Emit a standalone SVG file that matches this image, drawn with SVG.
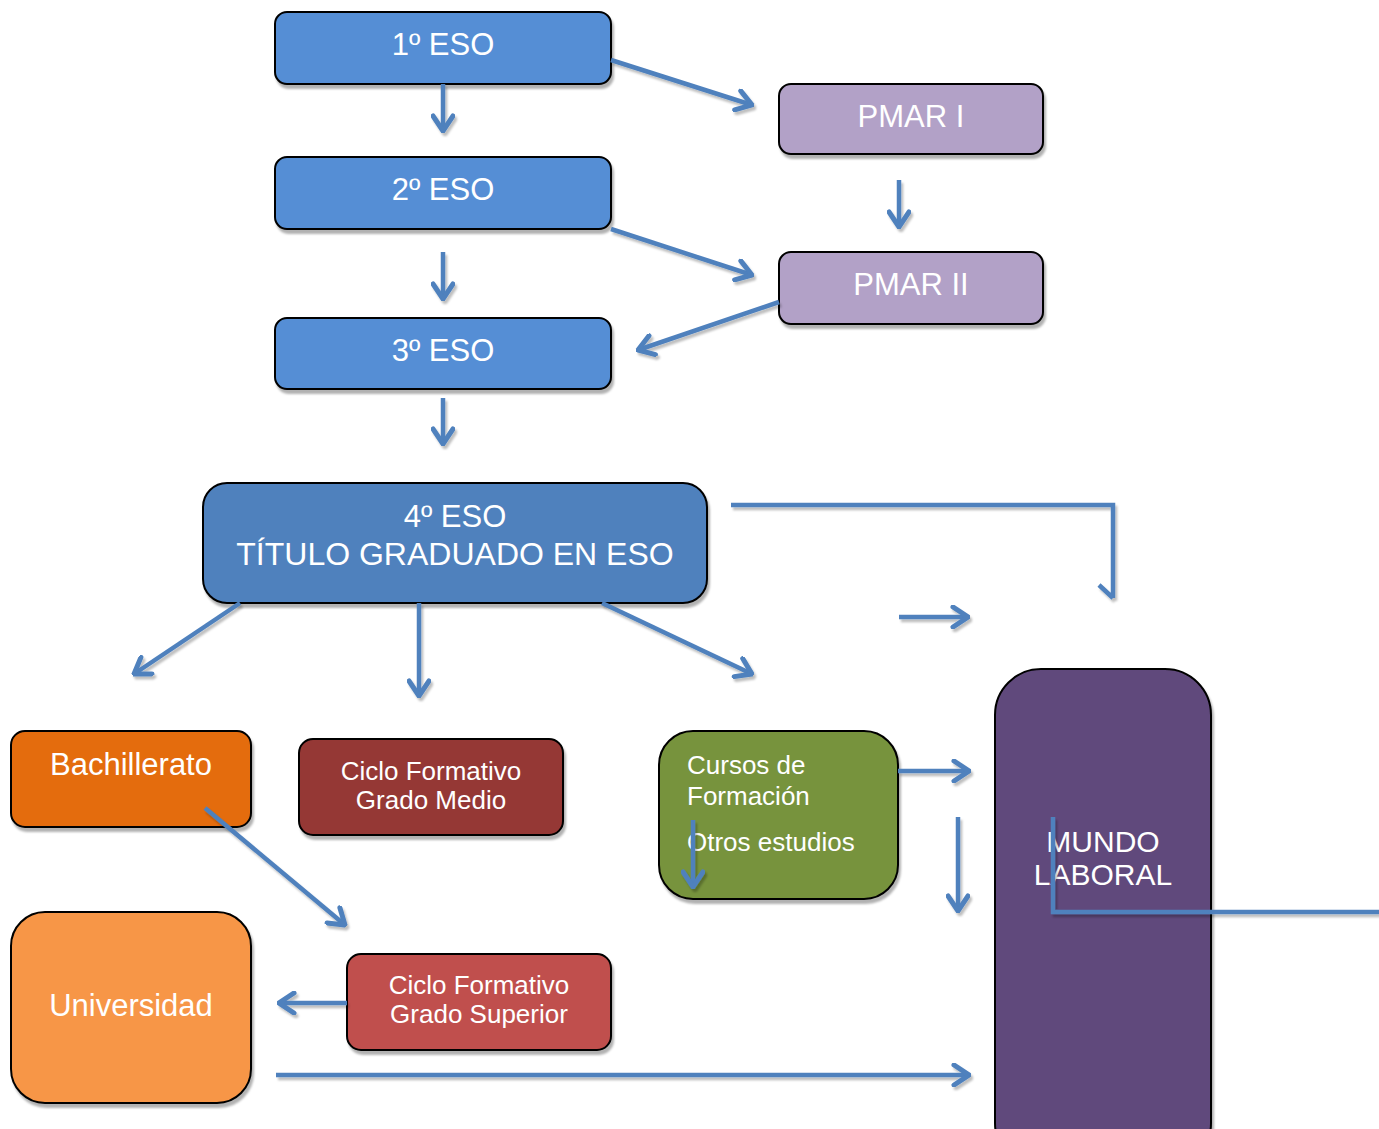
<svg xmlns="http://www.w3.org/2000/svg" width="1379" height="1129" viewBox="0 0 1379 1129">
<defs>
<filter id="sh" x="-10%" y="-10%" width="130%" height="130%">
<feDropShadow dx="2" dy="4" stdDeviation="1.2" flood-color="#000" flood-opacity="0.3"/>
</filter>
<filter id="lsh" x="-10%" y="-10%" width="130%" height="130%" filterUnits="userSpaceOnUse">
<feDropShadow dx="2" dy="3" stdDeviation="0.8" flood-color="#000" flood-opacity="0.25"/>
</filter>
<marker id="ah" viewBox="0 0 20 24" refX="18" refY="12" markerWidth="20" markerHeight="24" markerUnits="userSpaceOnUse" orient="auto">
<path d="M3,2 L18,12 L3,22" fill="none" stroke="#4F81BD" stroke-width="5" stroke-linecap="round" stroke-linejoin="miter"/>
</marker>
</defs>
<style>
.box{stroke:#000;stroke-width:2;filter:url(#sh)}
.t{font-family:"Liberation Sans",Arial,sans-serif;fill:#fff;text-anchor:middle}
.tl{font-family:"Liberation Sans",Arial,sans-serif;fill:#fff}
.c{fill:none;stroke:#4F81BD;stroke-width:4.5;filter:url(#lsh)}
.a{marker-end:url(#ah)}
</style>
<rect width="1379" height="1129" fill="#fff"/>

<g id="n1">
<rect class="box" x="275" y="12" width="336" height="72" rx="12" fill="#558ED5"/>
<text class="t" x="443" y="55" font-size="31">1º ESO</text>
</g>
<g id="n2">
<rect class="box" x="275" y="157" width="336" height="72" rx="12" fill="#558ED5"/>
<text class="t" x="443" y="200" font-size="31">2º ESO</text>
</g>
<g id="n3">
<rect class="box" x="275" y="318" width="336" height="71" rx="12" fill="#558ED5"/>
<text class="t" x="443" y="361" font-size="31">3º ESO</text>
</g>
<g id="pmar1">
<rect class="box" x="779" y="84" width="264" height="70" rx="12" fill="#B2A1C7"/>
<text class="t" x="911" y="127" font-size="31">PMAR I</text>
</g>
<g id="pmar2">
<rect class="box" x="779" y="252" width="264" height="72" rx="12" fill="#B2A1C7"/>
<text class="t" x="911" y="295" font-size="31">PMAR II</text>
</g>
<g id="n4">
<rect class="box" x="203" y="483" width="504" height="120" rx="24" fill="#4F81BD"/>
<text class="t" x="455" y="527" font-size="31">4º ESO</text>
<text class="t" x="455" y="565" font-size="32">TÍTULO GRADUADO EN ESO</text>
</g>
<g id="bach">
<rect class="box" x="11" y="731" width="240" height="96" rx="14" fill="#E46C0A"/>
<text class="t" x="131" y="775" font-size="31">Bachillerato</text>
</g>
<g id="cfgm">
<rect class="box" x="299" y="739" width="264" height="96" rx="14" fill="#953735"/>
<text class="t" x="431" y="780" font-size="26">Ciclo Formativo</text>
<text class="t" x="431" y="809" font-size="26">Grado Medio</text>
</g>
<g id="cursos">
<rect class="box" x="659" y="731" width="239" height="168" rx="34" fill="#77933C"/>
<text class="tl" x="687" y="774" font-size="26">Cursos de</text>
<text class="tl" x="687" y="805" font-size="26">Formación</text>
<text class="tl" x="687" y="851" font-size="26">Otros estudios</text>
</g>
<g id="univ">
<rect class="box" x="11" y="912" width="240" height="191" rx="34" fill="#F79646"/>
<text class="t" x="131" y="1016" font-size="31">Universidad</text>
</g>
<g id="cfgs">
<rect class="box" x="347" y="954" width="264" height="96" rx="14" fill="#C0504D"/>
<text class="t" x="479" y="994" font-size="26">Ciclo Formativo</text>
<text class="t" x="479" y="1023" font-size="26">Grado Superior</text>
</g>
<g id="mundo">
<rect class="box" x="995" y="669" width="216" height="500" rx="46" fill="#604A7B"/>
<text class="t" x="1103" y="852" font-size="30">MUNDO</text>
<text class="t" x="1103" y="885" font-size="30">LABORAL</text>
</g>

<g id="connectors">
<path class="c a" d="M443,84 L443,131"/>
<path class="c a" d="M611,60 L752,105"/>
<path class="c a" d="M899,180 L899,227"/>
<path class="c a" d="M443,252 L443,299"/>
<path class="c a" d="M611,229 L752,275"/>
<path class="c a" d="M779,302 L638,350"/>
<path class="c a" d="M443,398 L443,444"/>
<path class="c a" d="M240,603 L134,674"/>
<path class="c a" d="M419,603 L419,696"/>
<path class="c a" d="M602,603 L752,674"/>
<path class="c" d="M731,505 L1113,505 L1113,598 M1099,585 L1113,598"/>
<path class="c a" d="M899,617 L968,617"/>
<path class="c a" d="M898,771 L969,771"/>
<path class="c a" d="M958,817 L958,911"/>
<path class="c a" d="M693,820 L693,887"/>
<path class="c" d="M1053,817 L1053,912 L1379,912"/>
<path class="c a" d="M205,808 L345,925"/>
<path class="c a" d="M347,1003 L279,1003"/>
<path class="c a" d="M276,1075 L969,1075"/>
</g>
</svg>
